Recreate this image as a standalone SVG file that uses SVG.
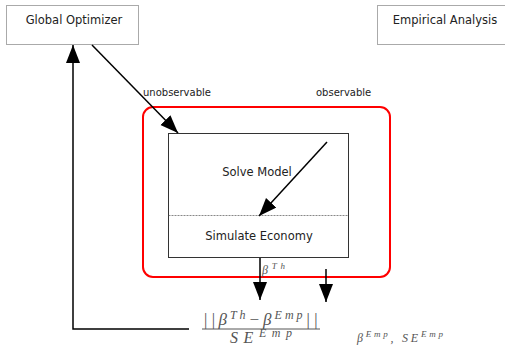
<svg xmlns="http://www.w3.org/2000/svg" width="505" height="346" viewBox="0 0 505 346">
<defs>
<marker id="ah" markerUnits="userSpaceOnUse" markerWidth="20" markerHeight="16" refX="18" refY="7" orient="auto">
<path d="M0,0 L18,7 L0,14 Z" fill="#000"/>
</marker>
<style>
.box{fill:#fff;stroke:#aaa;stroke-width:1}
.lbl{font-family:"DejaVu Sans",sans-serif;font-size:11.5px;fill:#222;text-anchor:middle}
.small{font-family:"DejaVu Sans",sans-serif;font-size:10px;fill:#222}
.math{font-family:"Liberation Serif",serif;font-style:italic;fill:#555}
.conn{stroke:#000;stroke-width:1.5;fill:none}
</style>
</defs>
<rect width="505" height="346" fill="#fff"/>
<g id="global-optimizer">
<rect class="box" x="6.5" y="5.5" width="132" height="39"/>
<text class="lbl" x="74" y="24">Global Optimizer</text>
</g>
<g id="empirical-analysis">
<rect class="box" x="377.5" y="5.5" width="135" height="39"/>
<text class="lbl" x="445" y="24">Empirical Analysis</text>
</g>
<g id="observable-region">
<rect x="143" y="107" width="247" height="170" rx="10" fill="none" stroke="#f00" stroke-width="2"/>
</g>
<g id="model">
<rect x="168.5" y="133.5" width="180" height="124" fill="#fff" stroke="#333" stroke-width="1"/>
<line x1="168.5" y1="215.5" x2="348.5" y2="215.5" stroke="#555" stroke-width="0.7" stroke-dasharray="2,1"/>
<text class="lbl" x="257" y="176">Solve Model</text>
<text class="lbl" x="259" y="240">Simulate Economy</text>
</g>
<g id="labels">
<text class="small" x="143" y="96">unobservable</text>
<text class="small" x="316" y="96">observable</text>
<text class="math" x="262" y="274" font-size="12" textLength="23" lengthAdjust="spacing">β<tspan dy="-5" font-size="9">Th</tspan></text>
</g>
<g id="objective">
<text class="math" x="203" y="325" font-size="17" textLength="115" lengthAdjust="spacing">||β<tspan dy="-6" font-size="12">Th</tspan><tspan dy="6">−β</tspan><tspan dy="-6" font-size="12">Emp</tspan><tspan dy="6">||</tspan></text>
<line x1="202" y1="329" x2="320" y2="329" stroke="#555" stroke-width="1"/>
<text class="math" x="230" y="343" font-size="16" textLength="62" lengthAdjust="spacing">SE<tspan dy="-6" font-size="12">Emp</tspan></text>
<text class="math" x="357" y="342" font-size="12" textLength="86" lengthAdjust="spacing">β<tspan dy="-5" font-size="9">Emp</tspan><tspan dy="5">, SE</tspan><tspan dy="-5" font-size="9">Emp</tspan></text>
</g>
<g id="connectors">
<line class="conn" x1="92" y1="45" x2="178" y2="133" marker-end="url(#ah)"/>
<line class="conn" x1="327" y1="142" x2="259" y2="216" marker-end="url(#ah)"/>
<line class="conn" x1="260" y1="258" x2="260" y2="300" marker-end="url(#ah)"/>
<line class="conn" x1="326" y1="269" x2="326" y2="302" marker-end="url(#ah)"/>
<polyline class="conn" points="189,329 73,329 73,45" marker-end="url(#ah)"/>
</g>
</svg>
